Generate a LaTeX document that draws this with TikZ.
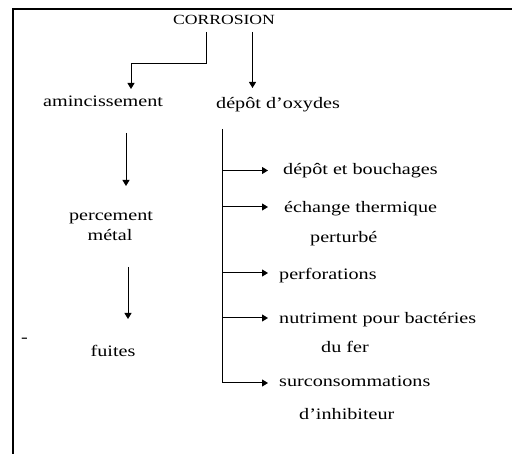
\documentclass[tikz,border=0pt]{standalone}
\usepackage{fontspec}
\setmainfont{Liberation Serif}[FakeStretch=1.26]
\usetikzlibrary{arrows.meta}
\begin{document}
\begin{tikzpicture}[x=1pt,y=-1pt,
  lbl/.style={inner sep=0pt,anchor=base west,font=\fontsize{16}{19}\selectfont},
  lblc/.style={inner sep=0pt,anchor=base,font=\fontsize{16}{19}\selectfont},
  conn/.style={line width=1pt},
  arr/.style={line width=1pt,-{Triangle[length=6pt,width=7pt]}},
  frame/.style={line width=2pt}]
\useasboundingbox (0,0) rectangle (512,454);
% frame (top and left only)
\draw[frame] (13,454) -- (13,9.5) -- (512,9.5);
% texts
\node[lblc,font=\fontsize{14}{16}\selectfont] (corr) at (224,25) {CORROSION};
\node[lbl] (amin) at (43,107) {amincissement};
\node[lbl] (depox) at (216,109) {dépôt d’oxydes};
\node[lblc] (perc) at (111,221) {percement};
\node[lblc] (metal) at (110,241) {métal};
\node[lblc] (fuites) at (113,357) {fuites};
\node[lbl] (dash) at (21,343) {-};
\node[lbl] (b1) at (283,175) {dépôt et bouchages};
\node[lbl] (b2) at (284,213) {échange thermique};
\node[lbl] (b2b) at (310,243) {perturbé};
\node[lbl] (b3) at (279,280) {perforations};
\node[lbl] (b4) at (279,324) {nutriment pour bactéries};
\node[lbl] (b4b) at (321,353) {du fer};
\node[lbl] (b5) at (279,387) {surconsommations};
\node[lbl] (b5b) at (299,420) {d’inhibiteur};
% connector end points
\coordinate (cL) at (206,32);
\coordinate (cLb) at (206,63.5);
\coordinate (tAmin) at (131,89);
\coordinate (cR) at (252.5,32);
\coordinate (tDep) at (252.5,88);
\coordinate (sAmin) at (126,133);
\coordinate (tPerc) at (126,186);
\coordinate (sMetal) at (128,267);
\coordinate (tFuites) at (128,319);
\coordinate (trTop) at (222,129);
\coordinate (trBot) at (222,383);
% connectors
\draw[arr] (cL) -- (cLb) -| (tAmin);
\draw[arr] (cR) -- (tDep);
\draw[arr] (sAmin) -- (tPerc);
\draw[arr] (sMetal) -- (tFuites);
\draw[conn] (trTop) -- (trBot);
\foreach \yy in {170.5,207,273,318,383}{
  \draw[arr] (222,\yy) -- (268,\yy);
}
\end{tikzpicture}
\end{document}
